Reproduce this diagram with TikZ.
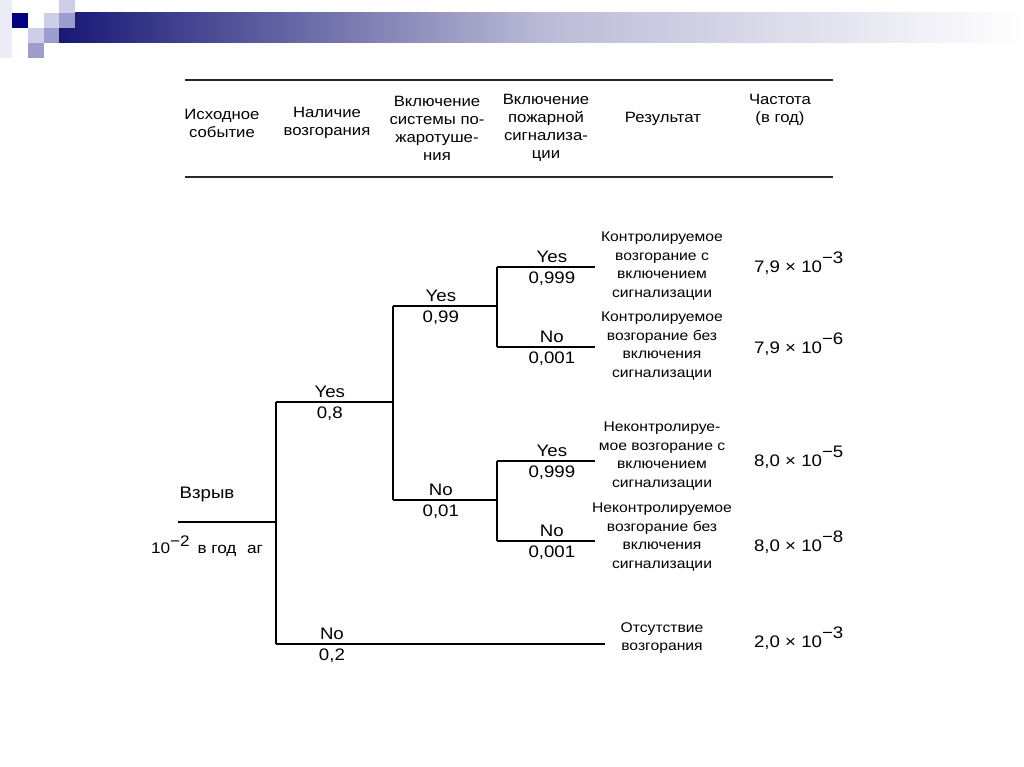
\documentclass[tikz,border=0pt]{standalone}
\usepackage{fontspec}
\setmainfont{Liberation Sans}[FakeStretch=1.12]
\definecolor{navy}{RGB}{0,0,128}
\definecolor{barnavy}{RGB}{24,24,118}
\definecolor{lavlight}{RGB}{206,206,232}
\definecolor{lavmid}{RGB}{156,156,206}
\definecolor{lavfaint}{RGB}{236,236,246}
\definecolor{rule}{RGB}{40,40,40}
\begin{document}
\begin{tikzpicture}[x=0.75pt, y=-0.75pt, line width=0.9pt,
  hd/.style={align=center, font=\fontsize{11.2}{13.5}\selectfont},
  br/.style={inner sep=3pt, font=\fontsize{12.5}{14}\selectfont},
  ev/.style={font=\fontsize{11.5}{13}\selectfont},
  rs/.style={align=center, font=\fontsize{10.5}{13.9}\selectfont},
  fq/.style={anchor=base west, font=\fontsize{12.5}{14}\selectfont}]
\useasboundingbox (0,0) rectangle (1024,767);
\shade[left color=barnavy, right color=white, middle color=barnavy!30!white] (59,13) rectangle (1024,43);
\fill[lavfaint] (0,0) rectangle (12,58);
\fill[lavlight] (59,0) rectangle (75,13);
\fill[navy] (12,13) rectangle (28,28);
\fill[lavlight] (44,13) rectangle (59,28);
\fill[lavmid] (59,13) rectangle (75,28);
\fill[lavlight] (28,28) rectangle (44,43);
\fill[lavmid] (44,28) rectangle (59,43);
\fill[lavmid] (28,43) rectangle (44,58);
\draw[line width=1.5pt, rule] (185,80) -- (833,80);
\draw[line width=1.5pt, rule] (185,177) -- (833,177);
\node[hd] (h1) at (222,123) {Исходное\\событие};
\node[hd] (h2) at (327,123) {Наличие\\возгорания};
\node[hd] (h3) at (437,128) {Включение\\системы по-\\жаротуше-\\ния};
\node[hd] (h4) at (546,128) {Включение\\пожарной\\сигнализа-\\ции};
\node[hd] (h5) at (663,119) {Результат};
\node[hd] (h6) at (780,110) {Частота\\(в год)};
\coordinate (r0) at (178,522);
\coordinate (a) at (276,522);
\coordinate (a1) at (276,402);
\coordinate (a2) at (276,644);
\coordinate (b1) at (393,306);
\coordinate (b) at (393,402);
\coordinate (b2) at (393,500);
\coordinate (c1) at (497,267);
\coordinate (c) at (497,306);
\coordinate (c2) at (497,347);
\coordinate (d1) at (497,461);
\coordinate (d) at (497,500);
\coordinate (d2) at (497,541);
\coordinate (e1) at (595,267);
\coordinate (e2) at (595,347);
\coordinate (e3) at (595,461);
\coordinate (e4) at (595,541);
\coordinate (e5) at (605,644);
\draw (r0) -- (a);
\draw (a1) -- (a2);
\draw (b1) -- (b2);
\draw (c1) -- (c2);
\draw (d1) -- (d2);
\draw (a1) -- (b) node[pos=.46, above, br]{Yes} node[pos=.46, below, br]{0,8};
\draw (a2) -- (e5) node[pos=.17, above, br]{No} node[pos=.17, below, br]{0,2};
\draw (b1) -- (c) node[pos=.46, above, br]{Yes} node[pos=.46, below, br]{0,99};
\draw (b2) -- (d) node[pos=.46, above, br]{No} node[pos=.46, below, br]{0,01};
\draw (c1) -- (e1) node[pos=.56, above, br]{Yes} node[pos=.56, below, br]{0,999};
\draw (c2) -- (e2) node[pos=.56, above, br]{No} node[pos=.56, below, br]{0,001};
\draw (d1) -- (e3) node[pos=.56, above, br]{Yes} node[pos=.56, below, br]{0,999};
\draw (d2) -- (e4) node[pos=.56, above, br]{No} node[pos=.56, below, br]{0,001};
\node[br] (evn) at (207,494) {Взрыв};
\node[ev, anchor=base west] (evf) at (146,553) {10\raisebox{5pt}{−2}};
\node[ev, anchor=base] (evy) at (217,553) {в год};
\node[ev, anchor=base] (evr) at (255,553) {аг};
\node[rs] (res1) at (662,266) {Контролируемое\\возгорание с\\включением\\сигнализации};
\node[rs] (res2) at (662,346) {Контролируемое\\возгорание без\\включения\\сигнализации};
\node[rs] (res3) at (662,456) {Неконтролируе-\\мое возгорание с\\включением\\сигнализации};
\node[rs] (res4) at (662,537) {Неконтролируемое\\возгорание без\\включения\\сигнализации};
\node[rs] (res5) at (662,638) {Отсутствие\\возгорания};
\node[fq] (f1) at (749,272) {7,9 × 10\raisebox{6.5pt}{−3}};
\node[fq] (f2) at (749,353) {7,9 × 10\raisebox{6.5pt}{−6}};
\node[fq] (f3) at (749,466) {8,0 × 10\raisebox{6.5pt}{−5}};
\node[fq] (f4) at (749,551) {8,0 × 10\raisebox{6.5pt}{−8}};
\node[fq] (f5) at (749,647) {2,0 × 10\raisebox{6.5pt}{−3}};
\end{tikzpicture}
\end{document}
